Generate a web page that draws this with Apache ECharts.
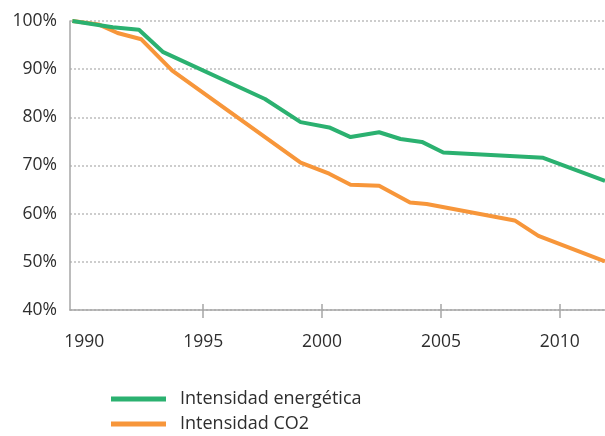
<!DOCTYPE html>
<html><head><meta charset="utf-8">
<script src="https://cdn.jsdelivr.net/npm/echarts@6/dist/echarts.min.js"></script>
<style>html,body{margin:0;padding:0;background:#fff}#c{width:605px;height:436px}</style>
</head><body><div id="c"></div>
<script>
// Data (index, 1990 = 100%)
const seriesNames = ['Intensidad energética', 'Intensidad CO2'];
const energyYears = [1989.5, 1991.2, 1992.3, 1993.3, 1997.6, 1999.1, 2000.3, 2001.2, 2002.4, 2003.3, 2004.2, 2005.1, 2009.3, 2011.9];
const energyValues = [100, 98.7, 98.2, 93.6, 83.8, 79.0, 77.9, 75.9, 76.9, 75.5, 74.9, 72.7, 71.6, 66.8];
const co2Years = [1989.5, 1990.6, 1991.4, 1992.4, 1993.7, 1999.1, 2000.3, 2001.2, 2002.4, 2003.7, 2004.4, 2008.1, 2009.1, 2011.9];
const co2Values = [100, 99.3, 97.5, 96.2, 89.7, 70.6, 68.3, 66.0, 65.8, 62.3, 62.0, 58.6, 55.4, 50.1];
const xLabelYears = [1990, 1995, 2000, 2005, 2010];
const xTickYears = [1995, 2000, 2005, 2010];

const FONT = '"Open Sans", sans-serif';
const TXT = '#2e2e2e';
const AX = '#a6a6a6';
const GREEN = '#2bb170';
const ORANGE = '#f7963a';

const pair = (xs, ys) => xs.map((x, i) => [x, ys[i]]);

const chart = echarts.init(document.getElementById('c'), null, {renderer: 'canvas'});
chart.setOption({
  animation: false,
  backgroundColor: '#ffffff',
  grid: {left: 70, top: 21, width: 535, height: 289, containLabel: false},
  xAxis: [{
    type: 'value', min: 1989.4, max: 2011.9,
    axisLine: {show: true, lineStyle: {color: AX, width: 1.5}},
    axisTick: {show: true, customValues: xTickYears, length: 8, lineStyle: {color: AX, width: 1.5}},
    axisLabel: {customValues: xLabelYears, margin: 23, color: TXT, fontFamily: FONT, fontSize: 17.5,
      formatter: v => String(Math.round(v))},
    splitLine: {show: false}
  }, {
    type: 'value', min: 1989.4, max: 2011.9, position: 'bottom', gridIndex: 0,
    axisLine: {show: false},
    axisTick: {show: true, inside: true, customValues: xTickYears, length: 6, lineStyle: {color: AX, width: 1.5}},
    axisLabel: {show: false},
    splitLine: {show: false}
  }],
  yAxis: {
    type: 'value', min: 40, max: 100, interval: 10,
    axisLine: {show: true, lineStyle: {color: AX, width: 1.5}},
    axisTick: {show: false},
    axisLabel: {formatter: '{value}%', margin: 13, color: TXT, fontFamily: FONT, fontSize: 17.5},
    splitLine: {show: true, lineStyle: {color: '#bdbdbd', width: 1.5, type: [2, 2]}}
  },
  legend: {
    data: seriesNames,
    orient: 'vertical', left: 111, top: 389, padding: 0,
    icon: 'rect', itemWidth: 55, itemHeight: 5, itemGap: 5,
    textStyle: {color: TXT, fontFamily: FONT, fontSize: 18, lineHeight: 20, padding: [0, 0, 0, 9]}
  },
  series: [{
    name: seriesNames[1], type: 'line', data: pair(co2Years, co2Values),
    showSymbol: false, symbol: 'none', color: ORANGE,
    lineStyle: {color: ORANGE, width: 4}
  }, {
    name: seriesNames[0], type: 'line', data: pair(energyYears, energyValues),
    showSymbol: false, symbol: 'none', color: GREEN,
    lineStyle: {color: GREEN, width: 4}
  }]
});
</script></body></html>
